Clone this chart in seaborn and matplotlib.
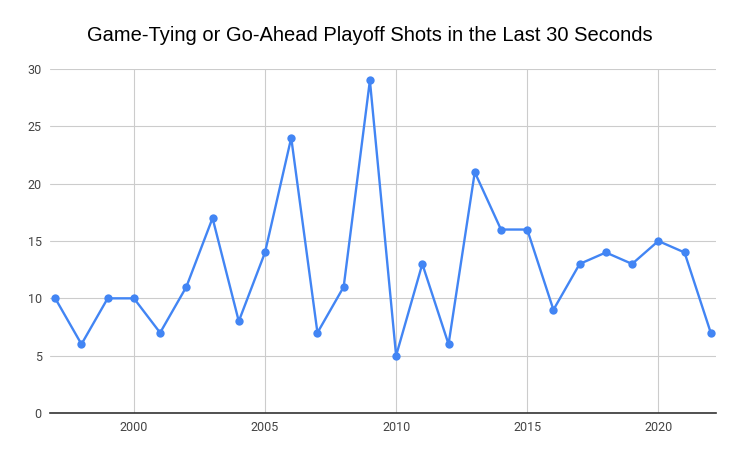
import matplotlib
matplotlib.use("Agg")
import matplotlib.pyplot as plt
import seaborn as sns
import pandas as pd

years = list(range(1997, 2023))
shots = [10, 6, 10, 10, 7, 11, 17, 8, 14, 24, 7, 11, 29, 5, 13, 6, 21, 16, 16, 9, 13, 14, 13, 15, 14, 7]
xticks = [2000, 2005, 2010, 2015, 2020]
yticks = [0, 5, 10, 15, 20, 25, 30]

df = pd.DataFrame({"year": years, "shots": shots})

sns.set_style("white")
plt.rcParams['font.family'] = ['Roboto', 'DejaVu Sans']

fig = plt.figure(figsize=(7.39, 4.57), dpi=100)
ax = fig.add_axes([50 / 739, 44 / 457, 666 / 739, 344 / 457])

sns.lineplot(data=df, x="year", y="shots", ax=ax, color="#4285F4", linewidth=1.7,
             marker="o", markersize=6, markeredgewidth=0)

ax.set_xlim(1996.8, 2022.2)
ax.set_ylim(0, 30)
ax.set_xticks(xticks)
ax.set_yticks(yticks)
ax.grid(True, color="#cccccc", linewidth=0.8)
ax.set_axisbelow(True)
for s in ["top", "right", "left"]:
    ax.spines[s].set_visible(False)
ax.spines["bottom"].set_color("#333333")
ax.spines["bottom"].set_linewidth(1.2)
ax.tick_params(axis="both", length=0, labelsize=9, colors="#444444", pad=6)
ax.set_xlabel("")
ax.set_ylabel("")

fig.text(0.5, 0.923, "Game-Tying or Go-Ahead Playoff Shots in the Last 30 Seconds",
         ha="center", va="center", fontsize=14.5, color="#000000",
         family=["Liberation Sans", "DejaVu Sans"])

fig.savefig("out.png", dpi=100)
